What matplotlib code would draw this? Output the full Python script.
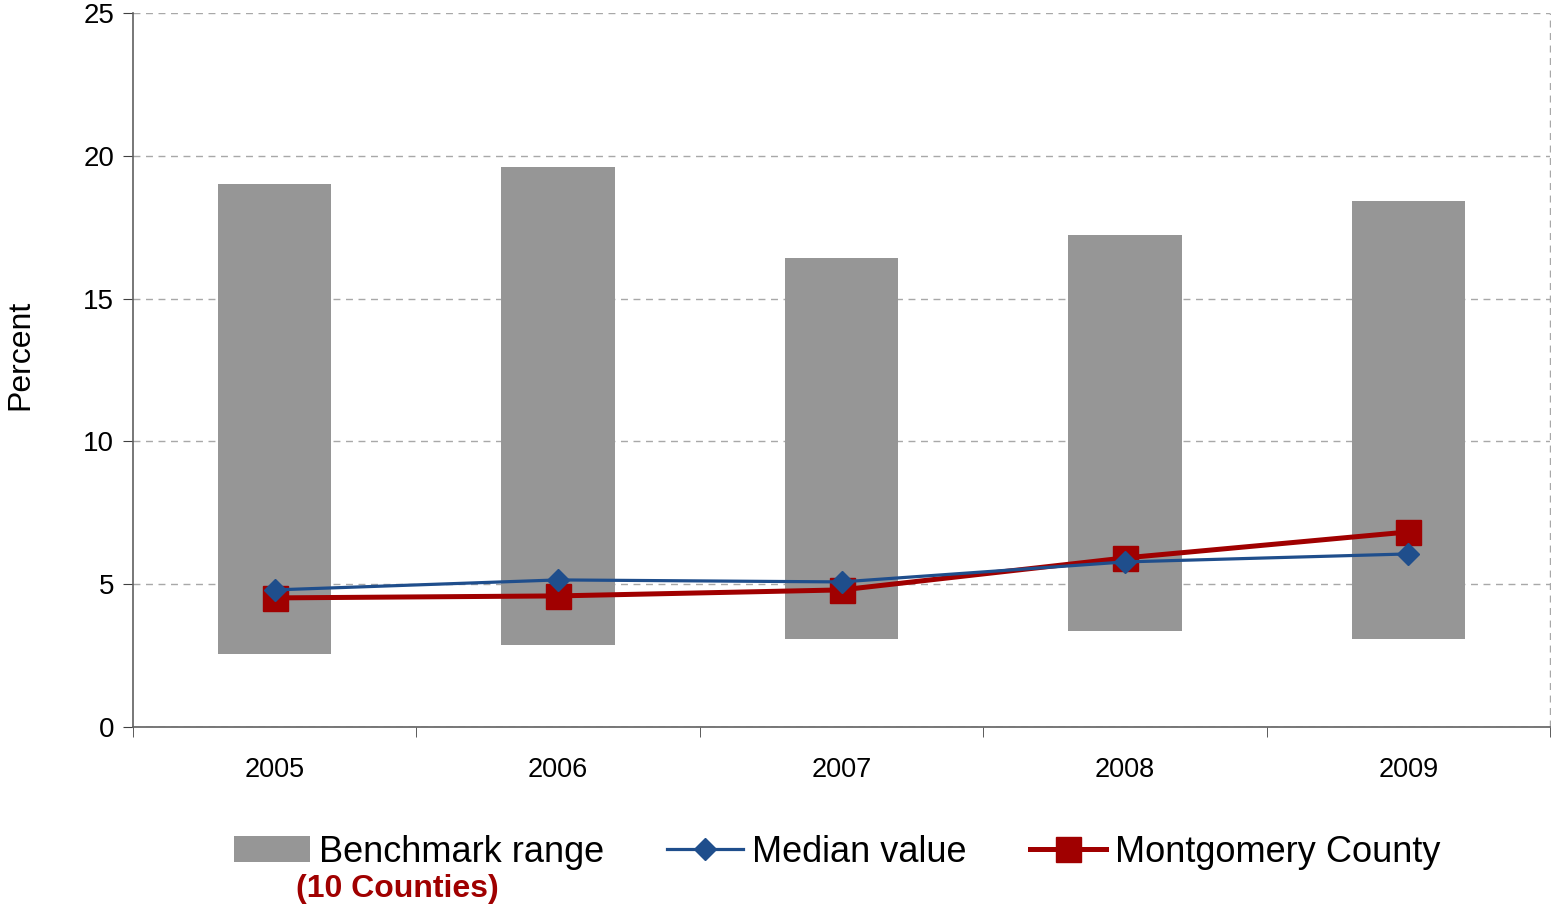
import matplotlib
matplotlib.use("Agg")
import matplotlib.pyplot as plt
from matplotlib.patches import Patch
from matplotlib.lines import Line2D
import numpy as np

years = ["2005", "2006", "2007", "2008", "2009"]
bench_low = [2.56, 2.87, 3.08, 3.36, 3.08]
bench_high = [19.01, 19.6, 16.42, 17.23, 18.42]
median = [4.8, 5.15, 5.08, 5.78, 6.06]
montgomery = [4.52, 4.59, 4.8, 5.92, 6.83]

plt.rcParams['font.family'] = ['Liberation Sans', 'DejaVu Sans']

fig = plt.figure(figsize=(15.51, 9.06), dpi=100)
ax = fig.add_axes([133/1551, 1-727/906, (1550-133)/1551, (727-13)/906])

x = np.arange(len(years))
heights = np.array(bench_high) - np.array(bench_low)
ax.bar(x, heights, bottom=bench_low, width=0.40, color='#969696', zorder=2)
ax.plot(x, montgomery, color='#A00000', lw=3.6, marker='s', ms=18, zorder=3)
ax.plot(x, median, color='#1F4E8C', lw=2.3, marker='D', ms=11.7, zorder=4)

ax.set_xlim(-0.5, 4.5)
ax.set_ylim(0, 25)
ax.set_yticks([0, 5, 10, 15, 20, 25])
ax.yaxis.grid(True, linestyle=(0, (5, 4)), color='#A8A8A8', lw=1, zorder=0)
ax.axvline(4.5, linestyle=(0, (5, 4)), color='#A8A8A8', lw=1, zorder=0, clip_on=False)
ax.set_axisbelow(True)
for s in ['top', 'right']:
    ax.spines[s].set_visible(False)
for s in ['left', 'bottom']:
    ax.spines[s].set_color('#606060')
    ax.spines[s].set_linewidth(1.2)

ax.set_xticks(x)
ax.set_xticklabels(years)
ax.set_xticks(np.arange(-0.5, 5.0, 1.0), minor=True)
ax.tick_params(axis='x', which='major', length=0, pad=21.5, labelsize=19.5)
ax.tick_params(axis='x', which='minor', length=7, direction='out', color='#404040')
ax.tick_params(axis='y', length=7, direction='out', color='#404040', pad=6.5, labelsize=20)
ax.set_ylabel("Percent", fontsize=23)
ax.yaxis.label.set_va('center')
ax.yaxis.set_label_coords((20 - 133) / 1417, (727 - 355) / 714)

handles = [
    Patch(facecolor='#969696', edgecolor='none'),
    Line2D([], [], color='#1F4E8C', lw=2.3, marker='D', ms=11.7),
    Line2D([], [], color='#A00000', lw=3.6, marker='s', ms=18),
]
labels = ["Benchmark range", "Median value", "Montgomery County"]
fig.legend(handles, labels, loc='center', bbox_to_anchor=(837/1551, 1-852/906),
           ncol=3, frameon=False, fontsize=26, handlelength=2.1,
           handletextpad=0.25, columnspacing=1.75, handleheight=0.7,
           borderpad=0, borderaxespad=0)
fig.text(397/1551, 1-889/906, "(10 Counties)", color='#A00000', fontsize=23,
         fontweight='bold', ha='center', va='center')

fig.savefig("out.png", dpi=100)
